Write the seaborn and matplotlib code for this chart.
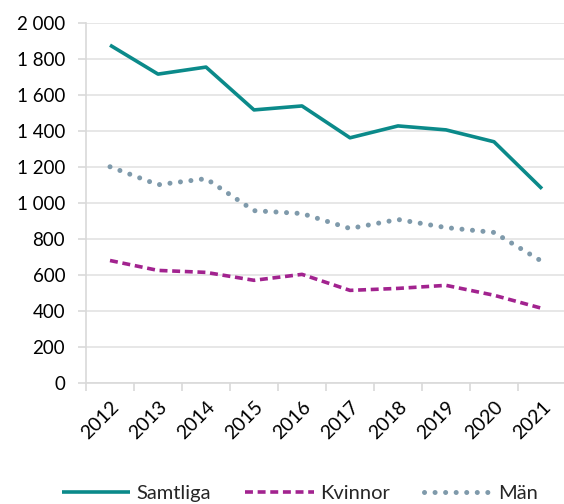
import matplotlib
matplotlib.use("Agg")
import matplotlib.pyplot as plt
import seaborn as sns
import pandas as pd
from matplotlib.ticker import FuncFormatter

years = ["2012", "2013", "2014", "2015", "2016", "2017", "2018", "2019", "2020", "2021"]
samtliga = [1878, 1717, 1756, 1518, 1540, 1363, 1429, 1407, 1341, 1080]
kvinnor = [681, 626, 615, 571, 604, 515, 526, 543, 488, 415]
man = [1202, 1102, 1136, 958, 942, 859, 909, 864, 837, 676]
series_names = ["Samtliga", "Kvinnor", "Män"]

df = pd.DataFrame({"year": years * 3,
                   "value": samtliga + kvinnor + man,
                   "series": [series_names[0]] * 10 + [series_names[1]] * 10 + [series_names[2]] * 10})
df["x"] = df.groupby("series").cumcount()

sns.set_theme(style="white")
plt.rcParams["font.family"] = ["Lato", "DejaVu Sans"]

fig = plt.figure(figsize=(5.64, 5.04), dpi=100)
ax = fig.add_axes([0.1525, 0.240, 0.851, 0.714])

colors = {"Samtliga": "#0B8A8A", "Kvinnor": "#A2238F", "Män": "#7F9AAB"}
sns.lineplot(data=df, x="x", y="value", hue="series", palette=colors, ax=ax, legend=False)
styles = {"Samtliga": dict(ls="-", lw=2.6), "Kvinnor": dict(ls=(0, (2.2, 1.3)), lw=2.6),
          "Män": dict(ls=(0, (0.01, 2.1)), lw=3.6)}
for line, name in zip(ax.get_lines(), series_names):
    line.set_linestyle(styles[name]["ls"])
    line.set_linewidth(styles[name]["lw"])
    line.set_solid_capstyle("butt")
    line.set_dash_capstyle("round" if name == "Män" else "butt")
    line.set_label(name)

ax.set_xlim(-0.5, 9.5)
ax.set_ylim(0, 2000)
ax.set_yticks(range(0, 2001, 200))
ax.yaxis.set_major_formatter(FuncFormatter(lambda v, p: f"{int(v):,}".replace(",", " ")))
ax.set_xticks(range(10))
ax.set_xticklabels(years, rotation=45, ha="right", rotation_mode="anchor")
ax.set_xticks([i - 0.5 for i in range(11)], minor=True)
ax.tick_params(axis="x", which="major", length=0, pad=11, labelsize=14, colors="black")
ax.tick_params(axis="x", which="minor", length=6, width=1.2, color="#D9D9D9", direction="out", bottom=True)
ax.tick_params(axis="y", length=6, width=1.2, color="#D9D9D9", labelsize=13.5, pad=9, left=True)
for lab in ax.get_yticklabels():
    lab.set_color("black")
ax.grid(axis="y", color="#E3E3E3", lw=1.2)
ax.set_xlabel("")
ax.set_ylabel("")
for s in ["top", "right"]:
    ax.spines[s].set_visible(False)
for s in ["left", "bottom"]:
    ax.spines[s].set_color("#D9D9D9")
    ax.spines[s].set_linewidth(1.2)

leg = fig.legend(handles=ax.get_lines(), labels=series_names, loc="center",
                 bbox_to_anchor=(0.532, 0.02), ncol=3, frameon=False, fontsize=14.5,
                 handlelength=3.4, handletextpad=0.3, columnspacing=1.7)

fig.savefig("out.png", dpi=100)
